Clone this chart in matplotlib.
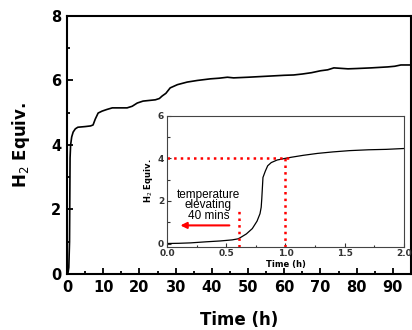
import numpy as np
import matplotlib
matplotlib.use("Agg")
import matplotlib.pyplot as plt
from matplotlib.ticker import MultipleLocator

# main curve (long run, hours vs H2 equivalents)
main_t = [0, 0.3, 0.5, 0.7, 0.85, 1.0, 1.3, 1.7, 2.3, 3.0, 5.0, 6.5, 7.2, 7.8,
          8.6, 9.7, 11, 12.5, 16.6, 18, 19.4, 21, 24.4, 25.5, 26.3, 27.3, 28.5,
          30.5, 33.2, 36, 39.6, 42, 44.3, 46, 50, 55, 60, 62.6, 65, 67.5, 70,
          72, 73.7, 75, 77.6, 80, 84, 88.6, 90.5, 92.2, 95.3]
main_h = [0, 0.05, 0.2, 1.0, 3.6, 4.0, 4.25, 4.4, 4.5, 4.55, 4.57, 4.59, 4.62, 4.8,
          4.99, 5.05, 5.1, 5.15, 5.15, 5.2, 5.3, 5.36, 5.4, 5.44, 5.52, 5.6, 5.77,
          5.87, 5.95, 6.0, 6.05, 6.07, 6.1, 6.08, 6.1, 6.13, 6.16, 6.17, 6.2, 6.24, 6.3,
          6.33, 6.39, 6.38, 6.36, 6.37, 6.39, 6.42, 6.44, 6.48, 6.48]

# inset: first two hours
ins_t = [0, 0.1, 0.2, 0.33, 0.45, 0.55, 0.6, 0.62, 0.67, 0.72, 0.76, 0.785, 0.795,
         0.8, 0.81, 0.83, 0.85, 0.88, 0.93, 1.0, 1.05, 1.15, 1.27, 1.4, 1.54, 1.7,
         1.85, 2.0]
ins_h = [0, 0.01, 0.03, 0.08, 0.12, 0.17, 0.22, 0.28, 0.45, 0.7, 1.05, 1.4, 1.7,
         2.1, 3.1, 3.4, 3.65, 3.8, 3.92, 4.0, 4.05, 4.14, 4.23, 4.3, 4.36, 4.4,
         4.42, 4.46]

plt.rcParams['font.family'] = 'DejaVu Sans'

fig = plt.figure(figsize=(4.12, 3.30), dpi=100)

# main axes
ax = fig.add_axes([0.1626, 0.1697, 0.835, 0.782])
ax.plot(main_t, main_h, color='black', lw=1.2)
ax.set_xlim(0, 95)
ax.set_ylim(0, 8)
ax.xaxis.set_major_locator(MultipleLocator(10))
ax.xaxis.set_minor_locator(MultipleLocator(5))
ax.yaxis.set_major_locator(MultipleLocator(2))
ax.yaxis.set_minor_locator(MultipleLocator(1))
ax.tick_params(which='both', direction='in', top=False, right=False, width=1.3)
ax.tick_params(which='major', length=4, labelsize=10.5, pad=4)
ax.tick_params(which='minor', length=2.5)
for lab in ax.get_xticklabels() + ax.get_yticklabels():
    lab.set_fontweight('bold')
for s in ax.spines.values():
    s.set_linewidth(1.5)
ax.set_xlabel("Time (h)", fontsize=12, fontweight='bold', labelpad=11.5)
ax.set_ylabel(r"H$_2$ Equiv.", fontsize=12, fontweight='bold', labelpad=14)

# inset axes
ins = fig.add_axes([0.4053, 0.2524, 0.5752, 0.397])
ins.plot(ins_t, ins_h, color='black', lw=0.9)
ins.set_xlim(0, 2)
ins.set_ylim(-0.15, 6)
ins.xaxis.set_major_locator(MultipleLocator(0.5))
ins.xaxis.set_minor_locator(MultipleLocator(0.25))
ins.yaxis.set_major_locator(MultipleLocator(2))
ins.yaxis.set_minor_locator(MultipleLocator(1))
ins.tick_params(which='both', direction='in', top=False, right=False, width=0.8,
                colors='#333333')
ins.tick_params(which='major', length=3, labelsize=6.5, pad=2)
ins.tick_params(which='minor', length=1.8)
for lab in ins.get_xticklabels() + ins.get_yticklabels():
    lab.set_fontweight('bold')
for s in ins.spines.values():
    s.set_linewidth(0.8)
    s.set_color('#444444')
ins.set_xlabel("Time (h)", fontsize=6, fontweight='bold', labelpad=1)
ins.set_ylabel(r"H$_2$ Equiv.", fontsize=6, fontweight='bold', labelpad=2)

# red dotted guides
ins.plot([0, 1.05], [4, 4], color='red', ls=':', lw=1.8)
ins.plot([1.0, 1.0], [-0.15, 4.1], color='red', ls=':', lw=1.8)
ins.plot([0.61, 0.61], [-0.15, 1.6], color='red', ls=':', lw=1.8)
ins.annotate('', xy=(0.09, 0.85), xytext=(0.55, 0.85),
             arrowprops=dict(arrowstyle='-|>', color='red', lw=1.5,
                             mutation_scale=9))
ins.text(0.35, 1.8, "temperature\nelevating\n40 mins", fontsize=8.5,
         family='Liberation Sans', ha='center', va='center', linespacing=0.85)

fig.savefig("out.png", dpi=100)
